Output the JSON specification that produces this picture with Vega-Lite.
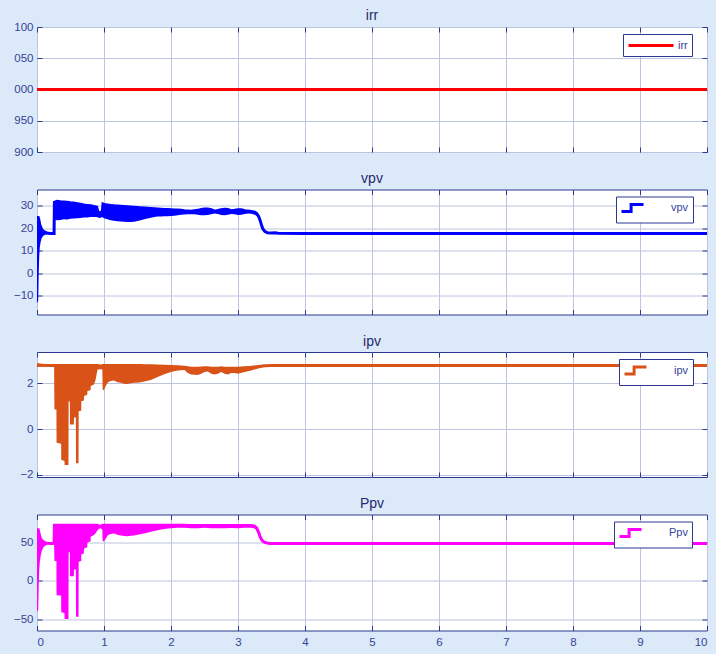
{
  "$schema": "https://vega.github.io/schema/vega-lite/v6.json",
  "background": "#dce9f8",
  "padding": {"left": 12, "top": 8, "right": 12, "bottom": 5},
  "bounds": "flush",
  "spacing": 37.5,
  "datasets": {
    "irr": [
      {"t": 0, "lo": 1000, "hi": 1000},
      {"t": 10, "lo": 1000, "hi": 1000}
    ],
    "vpv": [
      {"t": 0.000, "lo": -13.5, "hi": 24.8},
      {"t": 0.018, "lo": -12.5, "hi": 24.8},
      {"t": 0.026, "lo": 0.0, "hi": 24.0},
      {"t": 0.034, "lo": 8.0, "hi": 22.8},
      {"t": 0.042, "lo": 11.5, "hi": 21.5},
      {"t": 0.055, "lo": 14.0, "hi": 20.5},
      {"t": 0.07, "lo": 15.5, "hi": 19.5},
      {"t": 0.09, "lo": 16.5, "hi": 18.8},
      {"t": 0.12, "lo": 17.1, "hi": 18.2},
      {"t": 0.15, "lo": 17.3, "hi": 17.9},
      {"t": 0.2, "lo": 17.5, "hi": 17.7},
      {"t": 0.255, "lo": 17.6, "hi": 17.7},
      {"t": 0.26, "lo": 23.8, "hi": 31.6},
      {"t": 0.30, "lo": 23.6, "hi": 32.0},
      {"t": 0.35, "lo": 23.7, "hi": 31.8},
      {"t": 0.40, "lo": 24.0, "hi": 31.7},
      {"t": 0.45, "lo": 23.9, "hi": 31.6},
      {"t": 0.50, "lo": 24.2, "hi": 31.4},
      {"t": 0.55, "lo": 24.3, "hi": 31.3},
      {"t": 0.60, "lo": 24.5, "hi": 31.0},
      {"t": 0.65, "lo": 24.6, "hi": 30.7},
      {"t": 0.70, "lo": 24.8, "hi": 30.4},
      {"t": 0.75, "lo": 24.8, "hi": 30.2},
      {"t": 0.80, "lo": 25.0, "hi": 30.0},
      {"t": 0.85, "lo": 25.0, "hi": 29.7},
      {"t": 0.89, "lo": 25.0, "hi": 29.5},
      {"t": 0.91, "lo": 24.8, "hi": 27.3},
      {"t": 0.93, "lo": 24.6, "hi": 26.8},
      {"t": 0.96, "lo": 24.8, "hi": 27.2},
      {"t": 0.975, "lo": 25.0, "hi": 27.5},
      {"t": 0.985, "lo": 24.8, "hi": 30.8},
      {"t": 1.00, "lo": 24.5, "hi": 30.6},
      {"t": 1.05, "lo": 24.0, "hi": 30.4},
      {"t": 1.10, "lo": 23.6, "hi": 30.2},
      {"t": 1.15, "lo": 23.3, "hi": 30.0},
      {"t": 1.20, "lo": 23.1, "hi": 29.9},
      {"t": 1.25, "lo": 23.0, "hi": 29.8},
      {"t": 1.30, "lo": 22.9, "hi": 29.7},
      {"t": 1.35, "lo": 22.8, "hi": 29.6},
      {"t": 1.40, "lo": 22.8, "hi": 29.5},
      {"t": 1.45, "lo": 22.9, "hi": 29.4},
      {"t": 1.50, "lo": 23.2, "hi": 29.3},
      {"t": 1.55, "lo": 23.6, "hi": 29.1},
      {"t": 1.60, "lo": 24.0, "hi": 29.0},
      {"t": 1.65, "lo": 24.4, "hi": 28.9},
      {"t": 1.70, "lo": 24.7, "hi": 28.8},
      {"t": 1.75, "lo": 25.0, "hi": 28.7},
      {"t": 1.80, "lo": 25.2, "hi": 28.6},
      {"t": 1.85, "lo": 25.3, "hi": 28.5},
      {"t": 1.90, "lo": 25.4, "hi": 28.4},
      {"t": 1.95, "lo": 25.4, "hi": 28.4},
      {"t": 2.00, "lo": 25.5, "hi": 28.3},
      {"t": 2.05, "lo": 25.6, "hi": 28.2},
      {"t": 2.10, "lo": 25.8, "hi": 28.1},
      {"t": 2.15, "lo": 26.0, "hi": 28.0},
      {"t": 2.20, "lo": 26.1, "hi": 27.8},
      {"t": 2.25, "lo": 26.2, "hi": 27.7},
      {"t": 2.30, "lo": 26.3, "hi": 27.6},
      {"t": 2.35, "lo": 26.2, "hi": 27.8},
      {"t": 2.40, "lo": 26.0, "hi": 28.0},
      {"t": 2.45, "lo": 25.8, "hi": 28.4},
      {"t": 2.50, "lo": 25.8, "hi": 28.6},
      {"t": 2.55, "lo": 25.9, "hi": 28.6},
      {"t": 2.60, "lo": 26.3, "hi": 28.3},
      {"t": 2.65, "lo": 26.6, "hi": 27.6},
      {"t": 2.70, "lo": 26.4, "hi": 27.9},
      {"t": 2.75, "lo": 25.9, "hi": 28.3},
      {"t": 2.80, "lo": 25.8, "hi": 28.5},
      {"t": 2.85, "lo": 26.0, "hi": 28.4},
      {"t": 2.90, "lo": 26.4, "hi": 27.8},
      {"t": 2.95, "lo": 26.2, "hi": 28.0},
      {"t": 3.00, "lo": 25.9, "hi": 28.3},
      {"t": 3.05, "lo": 26.0, "hi": 28.3},
      {"t": 3.10, "lo": 26.4, "hi": 27.8},
      {"t": 3.15, "lo": 26.6, "hi": 27.7},
      {"t": 3.20, "lo": 26.5, "hi": 27.5},
      {"t": 3.25, "lo": 26.0, "hi": 27.2},
      {"t": 3.28, "lo": 25.5, "hi": 26.6},
      {"t": 3.31, "lo": 24.2, "hi": 25.2},
      {"t": 3.33, "lo": 22.5, "hi": 23.5},
      {"t": 3.35, "lo": 20.5, "hi": 21.5},
      {"t": 3.37, "lo": 19.0, "hi": 19.8},
      {"t": 3.40, "lo": 18.0, "hi": 18.6},
      {"t": 3.44, "lo": 17.6, "hi": 18.0},
      {"t": 3.50, "lo": 17.5, "hi": 17.9},
      {"t": 3.55, "lo": 17.7, "hi": 18.0},
      {"t": 3.60, "lo": 17.5, "hi": 17.8},
      {"t": 4.00, "lo": 17.5, "hi": 17.7},
      {"t": 10.0, "lo": 17.5, "hi": 17.7}
    ],
    "ipv": [
      {"t": 0.0, "lo": 2.70, "hi": 2.82},
      {"t": 0.05, "lo": 2.72, "hi": 2.80},
      {"t": 0.1, "lo": 2.73, "hi": 2.79},
      {"t": 0.2, "lo": 2.74, "hi": 2.78},
      {"t": 0.255, "lo": 2.74, "hi": 2.78},
      {"t": 0.26, "lo": 0.85, "hi": 2.78},
      {"t": 0.29, "lo": 0.85, "hi": 2.78},
      {"t": 0.292, "lo": -0.6, "hi": 2.78},
      {"t": 0.36, "lo": -0.65, "hi": 2.78},
      {"t": 0.362, "lo": -1.35, "hi": 2.78},
      {"t": 0.41, "lo": -1.4, "hi": 2.78},
      {"t": 0.412, "lo": -1.58, "hi": 2.78},
      {"t": 0.47, "lo": -1.58, "hi": 2.78},
      {"t": 0.472, "lo": 1.2, "hi": 2.78},
      {"t": 0.49, "lo": 1.2, "hi": 2.78},
      {"t": 0.492, "lo": 0.2, "hi": 2.78},
      {"t": 0.55, "lo": 0.2, "hi": 2.78},
      {"t": 0.552, "lo": 0.5, "hi": 2.78},
      {"t": 0.58, "lo": 0.5, "hi": 2.78},
      {"t": 0.582, "lo": -1.5, "hi": 2.78},
      {"t": 0.62, "lo": -1.5, "hi": 2.78},
      {"t": 0.622, "lo": 0.78, "hi": 2.78},
      {"t": 0.66, "lo": 0.8, "hi": 2.78},
      {"t": 0.662, "lo": 1.22, "hi": 2.78},
      {"t": 0.70, "lo": 1.25, "hi": 2.78},
      {"t": 0.702, "lo": 1.44, "hi": 2.78},
      {"t": 0.75, "lo": 1.5, "hi": 2.78},
      {"t": 0.752, "lo": 1.66, "hi": 2.78},
      {"t": 0.80, "lo": 1.7, "hi": 2.78},
      {"t": 0.802, "lo": 1.88, "hi": 2.78},
      {"t": 0.85, "lo": 1.95, "hi": 2.78},
      {"t": 0.87, "lo": 2.1, "hi": 2.78},
      {"t": 0.89, "lo": 2.4, "hi": 2.78},
      {"t": 0.905, "lo": 2.6, "hi": 2.78},
      {"t": 0.96, "lo": 2.62, "hi": 2.75},
      {"t": 0.975, "lo": 2.6, "hi": 2.76},
      {"t": 0.98, "lo": 1.7, "hi": 2.78},
      {"t": 1.0, "lo": 1.72, "hi": 2.78},
      {"t": 1.03, "lo": 1.9, "hi": 2.78},
      {"t": 1.06, "lo": 2.05, "hi": 2.78},
      {"t": 1.1, "lo": 2.1, "hi": 2.78},
      {"t": 1.15, "lo": 2.12, "hi": 2.78},
      {"t": 1.2, "lo": 2.05, "hi": 2.78},
      {"t": 1.25, "lo": 2.02, "hi": 2.78},
      {"t": 1.3, "lo": 1.98, "hi": 2.78},
      {"t": 1.35, "lo": 1.97, "hi": 2.78},
      {"t": 1.4, "lo": 2.0, "hi": 2.78},
      {"t": 1.45, "lo": 2.02, "hi": 2.78},
      {"t": 1.5, "lo": 2.02, "hi": 2.78},
      {"t": 1.55, "lo": 2.05, "hi": 2.78},
      {"t": 1.6, "lo": 2.08, "hi": 2.77},
      {"t": 1.7, "lo": 2.15, "hi": 2.77},
      {"t": 1.8, "lo": 2.28, "hi": 2.76},
      {"t": 1.9, "lo": 2.4, "hi": 2.75},
      {"t": 2.0, "lo": 2.5, "hi": 2.74},
      {"t": 2.1, "lo": 2.56, "hi": 2.72},
      {"t": 2.2, "lo": 2.58, "hi": 2.7},
      {"t": 2.25, "lo": 2.45, "hi": 2.68},
      {"t": 2.3, "lo": 2.38, "hi": 2.66},
      {"t": 2.4, "lo": 2.36, "hi": 2.66},
      {"t": 2.45, "lo": 2.42, "hi": 2.67},
      {"t": 2.5, "lo": 2.5, "hi": 2.68},
      {"t": 2.55, "lo": 2.52, "hi": 2.68},
      {"t": 2.6, "lo": 2.42, "hi": 2.66},
      {"t": 2.65, "lo": 2.38, "hi": 2.66},
      {"t": 2.7, "lo": 2.42, "hi": 2.66},
      {"t": 2.75, "lo": 2.5, "hi": 2.68},
      {"t": 2.8, "lo": 2.42, "hi": 2.66},
      {"t": 2.85, "lo": 2.38, "hi": 2.66},
      {"t": 2.9, "lo": 2.45, "hi": 2.66},
      {"t": 2.95, "lo": 2.45, "hi": 2.66},
      {"t": 3.0, "lo": 2.42, "hi": 2.66},
      {"t": 3.1, "lo": 2.5, "hi": 2.68},
      {"t": 3.2, "lo": 2.56, "hi": 2.7},
      {"t": 3.3, "lo": 2.65, "hi": 2.74},
      {"t": 3.4, "lo": 2.72, "hi": 2.77},
      {"t": 3.5, "lo": 2.74, "hi": 2.78},
      {"t": 10.0, "lo": 2.74, "hi": 2.78}
    ],
    "ppv": [
      {"t": 0.0, "lo": -40, "hi": 67},
      {"t": 0.018, "lo": -38, "hi": 67},
      {"t": 0.026, "lo": -5, "hi": 64},
      {"t": 0.034, "lo": 15, "hi": 61},
      {"t": 0.042, "lo": 25, "hi": 58},
      {"t": 0.055, "lo": 33, "hi": 55},
      {"t": 0.07, "lo": 39, "hi": 53},
      {"t": 0.09, "lo": 43, "hi": 51.5},
      {"t": 0.12, "lo": 46, "hi": 50},
      {"t": 0.15, "lo": 47.5, "hi": 49.5},
      {"t": 0.2, "lo": 48.2, "hi": 49},
      {"t": 0.255, "lo": 48.3, "hi": 48.9},
      {"t": 0.26, "lo": 26, "hi": 73},
      {"t": 0.29, "lo": 26, "hi": 73},
      {"t": 0.292, "lo": -18.7, "hi": 73},
      {"t": 0.36, "lo": -19, "hi": 73},
      {"t": 0.362, "lo": -41, "hi": 73},
      {"t": 0.41, "lo": -42, "hi": 73},
      {"t": 0.412, "lo": -50, "hi": 73},
      {"t": 0.47, "lo": -50, "hi": 73},
      {"t": 0.472, "lo": 37.5, "hi": 73},
      {"t": 0.49, "lo": 37.5, "hi": 73},
      {"t": 0.492, "lo": 6, "hi": 73},
      {"t": 0.55, "lo": 6, "hi": 73},
      {"t": 0.552, "lo": 15, "hi": 73},
      {"t": 0.58, "lo": 15, "hi": 73},
      {"t": 0.582, "lo": -47, "hi": 73},
      {"t": 0.62, "lo": -47, "hi": 73},
      {"t": 0.622, "lo": 25, "hi": 73},
      {"t": 0.66, "lo": 26, "hi": 73},
      {"t": 0.662, "lo": 35, "hi": 73},
      {"t": 0.70, "lo": 36, "hi": 73},
      {"t": 0.702, "lo": 42.5, "hi": 73},
      {"t": 0.75, "lo": 44, "hi": 73},
      {"t": 0.752, "lo": 50, "hi": 73},
      {"t": 0.80, "lo": 52, "hi": 73},
      {"t": 0.802, "lo": 58, "hi": 73},
      {"t": 0.85, "lo": 60, "hi": 73},
      {"t": 0.88, "lo": 63, "hi": 73},
      {"t": 0.9, "lo": 66, "hi": 73},
      {"t": 0.92, "lo": 68, "hi": 72},
      {"t": 0.95, "lo": 69, "hi": 71.5},
      {"t": 0.975, "lo": 67, "hi": 72},
      {"t": 0.98, "lo": 52, "hi": 73},
      {"t": 1.0, "lo": 52, "hi": 73},
      {"t": 1.03, "lo": 56, "hi": 73},
      {"t": 1.06, "lo": 60, "hi": 73},
      {"t": 1.1, "lo": 61.5, "hi": 73},
      {"t": 1.15, "lo": 62, "hi": 73},
      {"t": 1.2, "lo": 60.5, "hi": 73},
      {"t": 1.25, "lo": 59.5, "hi": 73},
      {"t": 1.3, "lo": 58.8, "hi": 73},
      {"t": 1.35, "lo": 58.5, "hi": 73},
      {"t": 1.4, "lo": 59, "hi": 73},
      {"t": 1.45, "lo": 59.5, "hi": 73},
      {"t": 1.5, "lo": 60.5, "hi": 73},
      {"t": 1.6, "lo": 62, "hi": 73},
      {"t": 1.7, "lo": 64.5, "hi": 73},
      {"t": 1.8, "lo": 66.5, "hi": 73},
      {"t": 1.9, "lo": 68, "hi": 73},
      {"t": 2.0, "lo": 69, "hi": 73},
      {"t": 2.1, "lo": 69.5, "hi": 73},
      {"t": 2.2, "lo": 69.5, "hi": 73},
      {"t": 2.3, "lo": 69, "hi": 72.5},
      {"t": 2.4, "lo": 69, "hi": 72.5},
      {"t": 2.5, "lo": 69.5, "hi": 72.5},
      {"t": 2.6, "lo": 69, "hi": 72.5},
      {"t": 2.7, "lo": 69, "hi": 72.5},
      {"t": 2.8, "lo": 69, "hi": 72.5},
      {"t": 2.9, "lo": 69.2, "hi": 72.5},
      {"t": 3.0, "lo": 69, "hi": 72.5},
      {"t": 3.1, "lo": 69.5, "hi": 72.5},
      {"t": 3.2, "lo": 69.5, "hi": 72.5},
      {"t": 3.25, "lo": 68.5, "hi": 71.5},
      {"t": 3.28, "lo": 66, "hi": 69},
      {"t": 3.31, "lo": 61, "hi": 63},
      {"t": 3.33, "lo": 56, "hi": 58},
      {"t": 3.35, "lo": 53, "hi": 54.5},
      {"t": 3.37, "lo": 50.5, "hi": 52},
      {"t": 3.40, "lo": 49, "hi": 50.5},
      {"t": 3.45, "lo": 48.3, "hi": 49.3},
      {"t": 3.5, "lo": 48.2, "hi": 49},
      {"t": 10.0, "lo": 48.2, "hi": 49}
    ]
  },
  "config": {
    "font": "Liberation Sans",
    "view": {"stroke": "#2b3990", "strokeWidth": 1, "fill": "white"},
    "axis": {
      "title": null,
      "domain": false,
      "labelFont": "Liberation Sans",
      "labelFontSize": 11.5,
      "labelColor": "#34449a",
      "labelOverlap": false,
      "tickColor": "#2b3990",
      "tickSize": -5,
      "labelPadding": 9,
      "gridColor": "#bcc4de",
      "gridOpacity": 1,
      "gridWidth": 1
    },
    "axisBottom": {"labelPadding": 11},
    "title": {"fontSize": 14, "fontWeight": "normal", "color": "#1f2a6e", "offset": 3, "font": "Liberation Sans"},
    "legend": {
      "title": null,
      "orient": "none",
      "legendY": 7,
      "strokeColor": "#2b3990",
      "fillColor": "white",
      "padding": 4,
      "labelFont": "Liberation Sans",
      "labelFontSize": 11,
      "labelColor": "#34449a",
      "symbolSize": 144,
      "symbolStrokeWidth": 3,
      "labelOffset": 36
    }
  },
  "resolve": {"scale": {"stroke": "independent"}, "legend": {"stroke": "independent"}},
  "vconcat": [
    {
      "title": {"text": "irr", "offset": -2},
      "width": 670,
      "height": 125,
      "data": {"name": "irr"},
      "resolve": {"axis": {"x": "independent", "y": "independent"}},
      "layer": [
        {
          "mark": {"type": "line", "strokeWidth": 3, "clip": true},
          "encoding": {
            "x": {"field": "t", "type": "quantitative", "scale": {"domain": [0, 10], "nice": false},
                  "axis": {"values": [0, 1, 2, 3, 4, 5, 6, 7, 8, 9, 10], "labels": false}},
            "y": {"field": "lo", "type": "quantitative", "scale": {"domain": [900, 1100], "nice": false, "zero": false},
                  "axis": {"values": [900, 950, 1000, 1050, 1100], "labelOverlap": false, "labelExpr": "slice(toString(datum.value), -3)"}},
            "stroke": {"datum": "irr", "scale": {"domain": ["irr"], "range": ["#ff0000"]},
                       "legend": {"legendX": 586, "symbolType": "M-1,0H6.5", "labelOffset": 36}}
          }
        },
        {
          "mark": {"type": "line", "opacity": 0},
          "encoding": {
            "x": {"field": "t", "type": "quantitative",
                  "axis": {"orient": "top", "values": [0, 1, 2, 3, 4, 5, 6, 7, 8, 9, 10], "labels": false, "grid": false}},
            "y": {"field": "lo", "type": "quantitative",
                  "axis": {"orient": "right", "values": [900, 950, 1000, 1050, 1100], "labels": false, "grid": false}}
          }
        }
      ]
    },
    {
      "title": "vpv",
      "width": 670,
      "height": 125,
      "data": {"name": "vpv"},
      "resolve": {"axis": {"x": "independent", "y": "independent"}},
      "layer": [
        {
          "mark": {"type": "area", "fill": "#0000ff", "clip": true},
          "encoding": {
            "x": {"field": "t", "type": "quantitative", "scale": {"domain": [0, 10], "nice": false},
                  "axis": {"values": [0, 1, 2, 3, 4, 5, 6, 7, 8, 9, 10], "labels": false}},
            "y": {"field": "lo", "type": "quantitative", "scale": {"domain": [-18.5, 37.3], "nice": false, "zero": false},
                  "axis": {"values": [-10, 0, 10, 20, 30], "labelOverlap": false}},
            "y2": {"field": "hi"}
          }
        },
        {
          "mark": {"type": "line", "strokeWidth": 3, "clip": true},
          "encoding": {
            "x": {"field": "t", "type": "quantitative", "axis": null},
            "y": {"field": "hi", "type": "quantitative", "axis": null},
            "stroke": {"datum": "vpv", "scale": {"domain": ["vpv"], "range": ["#0000ff"]},
                       "legend": {"legendX": 579, "symbolType": "M-1,0.6H0.6V-0.6H2.67"}}
          }
        },
        {
          "mark": {"type": "line", "opacity": 0},
          "encoding": {
            "x": {"field": "t", "type": "quantitative",
                  "axis": {"orient": "top", "values": [0, 1, 2, 3, 4, 5, 6, 7, 8, 9, 10], "labels": false, "grid": false}},
            "y": {"field": "lo", "type": "quantitative",
                  "axis": {"orient": "right", "values": [-10, 0, 10, 20, 30], "labels": false, "grid": false}}
          }
        }
      ]
    },
    {
      "title": "ipv",
      "width": 670,
      "height": 125,
      "data": {"name": "ipv"},
      "resolve": {"axis": {"x": "independent", "y": "independent"}},
      "layer": [
        {
          "mark": {"type": "area", "fill": "#d95319", "clip": true},
          "encoding": {
            "x": {"field": "t", "type": "quantitative", "scale": {"domain": [0, 10], "nice": false},
                  "axis": {"values": [0, 1, 2, 3, 4, 5, 6, 7, 8, 9, 10], "labels": false}},
            "y": {"field": "lo", "type": "quantitative", "scale": {"domain": [-2.1, 3.37], "nice": false, "zero": false},
                  "axis": {"values": [-2, 0, 2], "labelOverlap": false}},
            "y2": {"field": "hi"}
          }
        },
        {
          "mark": {"type": "line", "strokeWidth": 3, "clip": true},
          "encoding": {
            "x": {"field": "t", "type": "quantitative", "axis": null},
            "y": {"field": "hi", "type": "quantitative", "axis": null},
            "stroke": {"datum": "ipv", "scale": {"domain": ["ipv"], "range": ["#d95319"]},
                       "legend": {"legendX": 582, "symbolType": "M-1,0.6H0.6V-0.6H2.67"}}
          }
        },
        {
          "mark": {"type": "line", "opacity": 0},
          "encoding": {
            "x": {"field": "t", "type": "quantitative",
                  "axis": {"orient": "top", "values": [0, 1, 2, 3, 4, 5, 6, 7, 8, 9, 10], "labels": false, "grid": false}},
            "y": {"field": "lo", "type": "quantitative",
                  "axis": {"orient": "right", "values": [-2, 0, 2], "labels": false, "grid": false}}
          }
        }
      ]
    },
    {
      "title": "Ppv",
      "width": 670,
      "height": 116,
      "data": {"name": "ppv"},
      "resolve": {"axis": {"x": "independent", "y": "independent"}},
      "layer": [
        {
          "mark": {"type": "area", "fill": "#ff00ff", "clip": true},
          "encoding": {
            "x": {"field": "t", "type": "quantitative", "scale": {"domain": [0, 10], "nice": false},
                  "axis": {"values": [0, 1, 2, 3, 4, 5, 6, 7, 8, 9, 10]}},
            "y": {"field": "lo", "type": "quantitative", "scale": {"domain": [-65, 87], "nice": false, "zero": false},
                  "axis": {"values": [-50, 0, 50], "labelOverlap": false}},
            "y2": {"field": "hi"}
          }
        },
        {
          "mark": {"type": "line", "strokeWidth": 3, "clip": true},
          "encoding": {
            "x": {"field": "t", "type": "quantitative", "axis": null},
            "y": {"field": "hi", "type": "quantitative", "axis": null},
            "stroke": {"datum": "Ppv", "scale": {"domain": ["Ppv"], "range": ["#ff00ff"]},
                       "legend": {"legendX": 577, "symbolType": "M-1,0.6H0.6V-0.6H2.67"}}
          }
        },
        {
          "mark": {"type": "line", "opacity": 0},
          "encoding": {
            "x": {"field": "t", "type": "quantitative",
                  "axis": {"orient": "top", "values": [0, 1, 2, 3, 4, 5, 6, 7, 8, 9, 10], "labels": false, "grid": false}},
            "y": {"field": "lo", "type": "quantitative",
                  "axis": {"orient": "right", "values": [-50, 0, 50], "labels": false, "grid": false}}
          }
        }
      ]
    }
  ]
}
